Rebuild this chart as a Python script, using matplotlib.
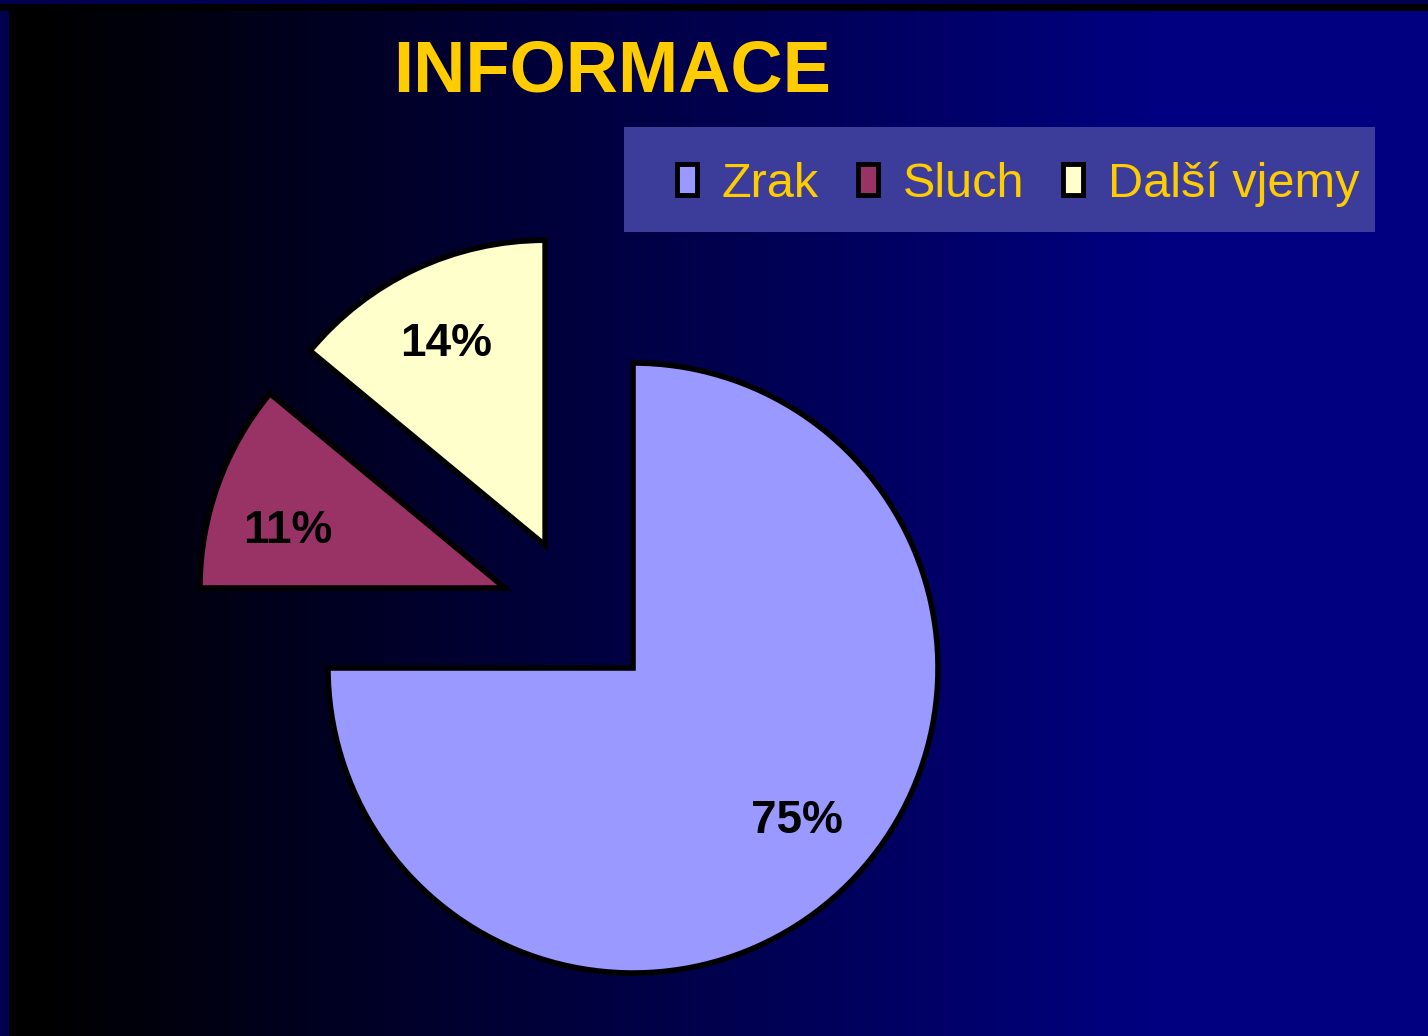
import numpy as np
import matplotlib.pyplot as plt
import matplotlib.patches as mpatches

plt.rcParams['font.family'] = ['Liberation Sans', 'DejaVu Sans']

# data
labels = ['Zrak', 'Sluch', 'Další vjemy']
values = [75, 11, 14]
colors = ['#9999FF', '#993366', '#FFFFCC']
title = 'INFORMACE'

# explosion of the small slices (distance in radii, direction in degrees)
explode_dist = [0, 0.495, 0.495]
explode_dir = [0, 148, 125.6]

W, H = 1428, 1036
fig = plt.figure(figsize=(W / 100, H / 100), dpi=100)

# background: black -> navy horizontal gradient with a dark frame
bg = fig.add_axes([0, 0, 1, 1])
bg.axis('off')
x = np.arange(W)
t = np.clip((x - 37) / (1150 - 37), 0, 1)
img = np.zeros((H, W, 3))
img[:, :, 2] = t * 128 / 255
img[:, :37] = 0
img[:, :9] = (0, 0, 80 / 255)
img[:11] = 0
img[:4] = (0, 0, 80 / 255)
bg.imshow(img, aspect='auto', extent=(0, W, H, 0), interpolation='nearest')

# pie axes, 1 data unit = one radius
R, cx, cy = 305, 633, 668
ax = fig.add_axes([0, 0, 1, 1])
ax.patch.set_alpha(0)
wedges, texts, autotexts = ax.pie(
    values, colors=colors, startangle=90, counterclock=False,
    autopct=lambda p: f'{p:.0f}%', pctdistance=0.735,
    wedgeprops=dict(edgecolor='black', linewidth=4, joinstyle='miter'),
    textprops=dict(fontsize=33, weight='bold', color='black'))
# label nudges (degrees) so the text sits where the original puts it
label_turn = [2, 5, 1]
for i, (d, a) in enumerate(zip(explode_dist, explode_dir)):
    dx, dy = d * np.cos(np.radians(a)), d * np.sin(np.radians(a))
    wedges[i].set_center((dx, dy))
    px, py = autotexts[i].get_position()
    rot = np.radians(label_turn[i])
    qx = px * np.cos(rot) - py * np.sin(rot)
    qy = px * np.sin(rot) + py * np.cos(rot)
    autotexts[i].set_position((qx + dx, qy + dy))
ax.set_aspect('auto')
ax.set_xlim(-cx / R, (W - cx) / R)
ax.set_ylim(-(H - cy) / R, cy / R)
ax.axis('off')

# title
fig.text(612 / W, 1 - 92 / H, title, ha='center', va='baseline',
         fontsize=52, weight='bold', color='#FFCC00')

# legend box + legend
fig.add_artist(mpatches.Rectangle((624 / W, 1 - 232 / H), 751 / W, 105 / H,
                                  transform=fig.transFigure,
                                  facecolor='#3C3C9A', edgecolor='none'))
handles = [mpatches.Patch(facecolor=c, edgecolor='black', linewidth=3.5)
           for c in colors]
fig.legend(handles, labels, ncol=3, loc='center left',
           bbox_to_anchor=(677 / W, 1 - 184 / H), frameon=False,
           fontsize=35, handlelength=0.42, handleheight=0.6,
           handletextpad=0.5, columnspacing=0.8, labelcolor='#FFCC00',
           borderpad=0, borderaxespad=0)

fig.savefig('out.png', dpi=100)
